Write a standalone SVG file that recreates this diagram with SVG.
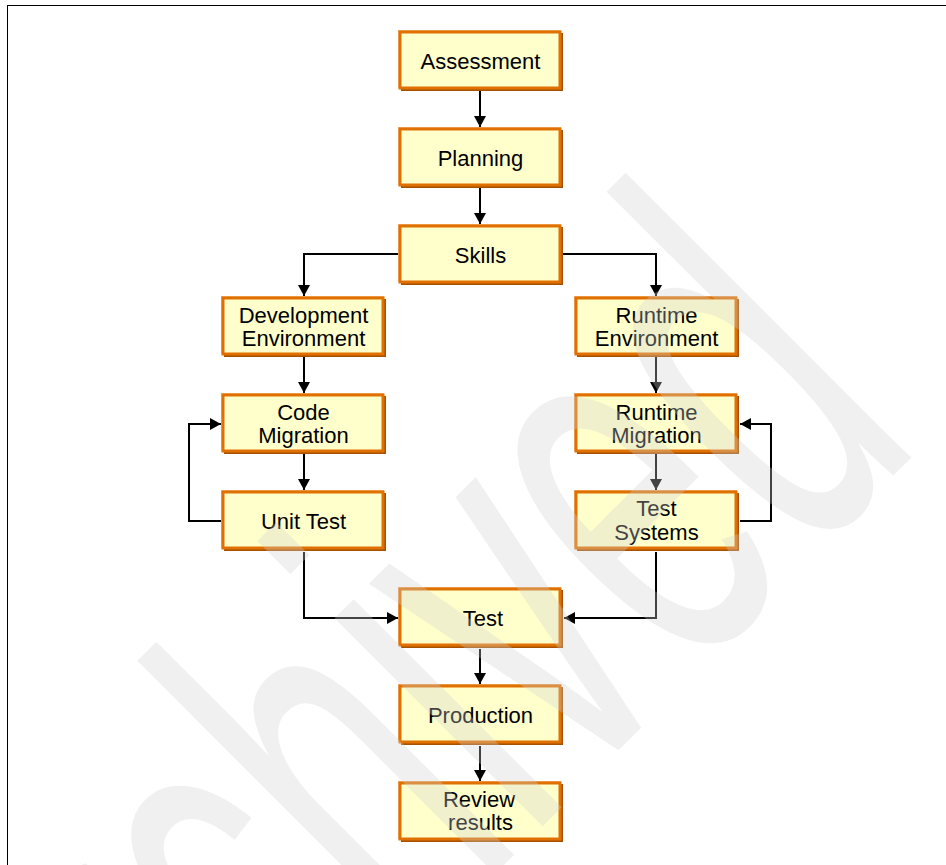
<svg xmlns="http://www.w3.org/2000/svg" xmlns:xlink="http://www.w3.org/1999/xlink" width="946" height="865" viewBox="0 0 946 865">
  <style>
    .lbl { font-family: "Liberation Sans", Arial, sans-serif; font-size: 22px; fill: #000; text-anchor: middle; }
    .wire { fill: none; stroke: #000; stroke-width: 2; }
    .mark { font-family: "Liberation Sans", Arial, sans-serif; font-size: 557px; fill: #d0d0d0; fill-opacity: 0.32; }
  </style>
  <defs>
    <marker id="arrow" markerUnits="userSpaceOnUse" markerWidth="12" markerHeight="12" refX="11" refY="6" orient="auto">
      <path d="M0,0 L11,6 L0,12 z" fill="#000"/>
    </marker>
    <!-- step box: 165 x 61, drop shadow to lower right -->
    <g id="box">
      <rect x="3" y="3" width="162" height="58" fill="#a65200"/>
      <rect x="0.5" y="0.5" width="162" height="57" fill="none" stroke="#f2bd85" stroke-width="1"/>
      <rect x="2" y="2" width="160" height="56" fill="#ffffcc" stroke="#e07000" stroke-width="3"/>
    </g>
  </defs>

  <rect width="946" height="865" fill="#fff"/>
  <rect x="7.5" y="5.5" width="1000" height="1000" fill="none" stroke="#000" stroke-width="1"/>

  <g id="connectors">
    <path class="wire" d="M480,91 V127" marker-end="url(#arrow)"/>
    <path class="wire" d="M480,188 V224" marker-end="url(#arrow)"/>
    <path class="wire" d="M398,254 H304 V296" marker-end="url(#arrow)"/>
    <path class="wire" d="M563,254 H656 V296" marker-end="url(#arrow)"/>
    <path class="wire" d="M304,357 V393" marker-end="url(#arrow)"/>
    <path class="wire" d="M656,357 V393" marker-end="url(#arrow)"/>
    <path class="wire" d="M304,454 V490" marker-end="url(#arrow)"/>
    <path class="wire" d="M656,454 V490" marker-end="url(#arrow)"/>
    <path class="wire" d="M221,521 H189 V424 H221" marker-end="url(#arrow)"/>
    <path class="wire" d="M740,521 H771 V424 H740" marker-end="url(#arrow)"/>
    <path class="wire" d="M304,552 V618 H398" marker-end="url(#arrow)"/>
    <path class="wire" d="M656,552 V618 H564" marker-end="url(#arrow)"/>
    <path class="wire" d="M480,649 V684" marker-end="url(#arrow)"/>
    <path class="wire" d="M480,746 V781" marker-end="url(#arrow)"/>
  </g>

  <g id="assessment" transform="translate(398,30)">
    <use xlink:href="#box"/>
    <text class="lbl" x="82.5" y="39">Assessment</text>
  </g>
  <g id="planning" transform="translate(398,127)">
    <use xlink:href="#box"/>
    <text class="lbl" x="82.5" y="39">Planning</text>
  </g>
  <g id="skills" transform="translate(398,224)">
    <use xlink:href="#box"/>
    <text class="lbl" x="82.5" y="39">Skills</text>
  </g>
  <g id="development-environment" transform="translate(221,296)">
    <use xlink:href="#box"/>
    <text class="lbl" x="82.5" y="27">Development</text>
    <text class="lbl" x="82.5" y="50">Environment</text>
  </g>
  <g id="runtime-environment" transform="translate(574,296)">
    <use xlink:href="#box"/>
    <text class="lbl" x="82.5" y="27">Runtime</text>
    <text class="lbl" x="82.5" y="50">Environment</text>
  </g>
  <g id="code-migration" transform="translate(221,393)">
    <use xlink:href="#box"/>
    <text class="lbl" x="82.5" y="27">Code</text>
    <text class="lbl" x="82.5" y="50">Migration</text>
  </g>
  <g id="runtime-migration" transform="translate(574,393)">
    <use xlink:href="#box"/>
    <text class="lbl" x="82.5" y="27">Runtime</text>
    <text class="lbl" x="82.5" y="50">Migration</text>
  </g>
  <g id="unit-test" transform="translate(221,490)">
    <use xlink:href="#box"/>
    <text class="lbl" x="82.5" y="39">Unit Test</text>
  </g>
  <g id="test-systems" transform="translate(574,490)">
    <use xlink:href="#box"/>
    <text class="lbl" x="82.5" y="26">Test</text>
    <text class="lbl" x="82.5" y="50">Systems</text>
  </g>
  <g id="test" transform="translate(398,587)">
    <use xlink:href="#box"/>
    <text class="lbl" x="85" y="39">Test</text>
  </g>
  <g id="production" transform="translate(398,684)">
    <use xlink:href="#box"/>
    <text class="lbl" x="82.5" y="39">Production</text>
  </g>
  <g id="review-results" transform="translate(398,781)">
    <use xlink:href="#box"/>
    <text class="lbl" x="81" y="26">Review</text>
    <text class="lbl" x="82.5" y="49">results</text>
  </g>

  <!-- diagonal watermark laid over the whole page -->
  <g transform="rotate(-45)">
    <text class="mark" transform="translate(-817,968) scale(0.55,1)">archived</text>
  </g>
</svg>
